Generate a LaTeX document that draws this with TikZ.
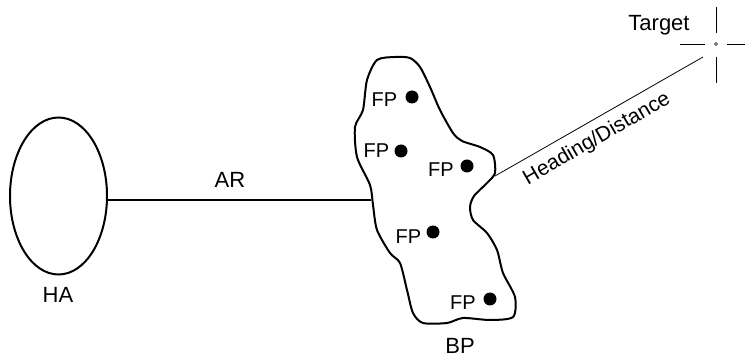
\documentclass[tikz,border=0pt]{standalone}
\usepackage{fontspec}
\setmainfont{Liberation Sans}
\usetikzlibrary{shapes.geometric}
\begin{document}
\begin{tikzpicture}[x=1pt,y=-1pt,
  lbl/.style={font=\fontsize{22}{26}\selectfont, inner sep=0pt, anchor=base},
  fplbl/.style={font=\fontsize{20}{24}\selectfont, inner sep=0pt, anchor=base},
  fpdot/.style={circle, fill=black, inner sep=0pt, minimum size=13pt},
  thickline/.style={line width=2pt},
  hair/.style={line width=0.8pt}]
\useasboundingbox (0,0) rectangle (745,358);
% HA
\node[ellipse, draw, thickline, minimum width=97pt, minimum height=157pt, inner sep=0pt] (ha) at (58.5,196) {};
\node[lbl] (halbl) at (58,303) {HA};
% BP blob
\draw[thickline, line join=round] plot[smooth cycle, tension=0.45] coordinates {
 (377,60) (395,57) (410,58) (420,67) (430,87) (440,110) (453,133) (462,141)
 (480,147) (493,155) (495,173) (487,183) (474,196) (470,207) (473,220)
 (487,233) (497,250) (503,273) (515,297) (513,317) (490,320) (463,318)
 (447,323) (423,323) (413,313) (407,290) (400,263) (390,253) (377,230)
 (373,205) (370,185) (357,157) (355,127) (363,110) (367,80)};
\coordinate (bpw) at (371,200);
\coordinate (bpe) at (495,176);
\node[lbl] (bplbl) at (460,354) {BP};
% AR
\draw[thickline] (ha.east |- bpw) -- (bpw);
\node[lbl] (arlbl) at (230,187.5) {AR};
% FP
\node[fpdot] (d1) at (412,97) {};
\node[fpdot] (d2) at (401,151) {};
\node[fpdot] (d3) at (467,166) {};
\node[fpdot] (d4) at (433,232) {};
\node[fpdot] (d5) at (490,299) {};
\node[fplbl] (f1) at (384.5,106.5) {FP};
\node[fplbl] (f2) at (376.5,158) {FP};
\node[fplbl] (f3) at (441,177) {FP};
\node[fplbl] (f4) at (408.5,244) {FP};
\node[fplbl] (f5) at (463,310) {FP};
% Target
\node[circle, draw, line width=0.6pt, minimum size=3pt, inner sep=0pt] (tg) at (716,44) {};
\draw[hair] (716,7) -- (716,33);
\draw[hair] (716,57) -- (716,83);
\draw[hair] (680,44) -- (705,44);
\draw[hair] (727,44) -- (745,44);
\node[lbl] (tglbl) at (659,31) {Target};
\coordinate (tgend) at (703,57);
% Heading
\draw[hair] (bpe) -- (tgend);
\node[font=\fontsize{21}{24}\selectfont, inner sep=0pt, rotate=30] (hd) at (597,139) {Heading/Distance};
\end{tikzpicture}
\end{document}
